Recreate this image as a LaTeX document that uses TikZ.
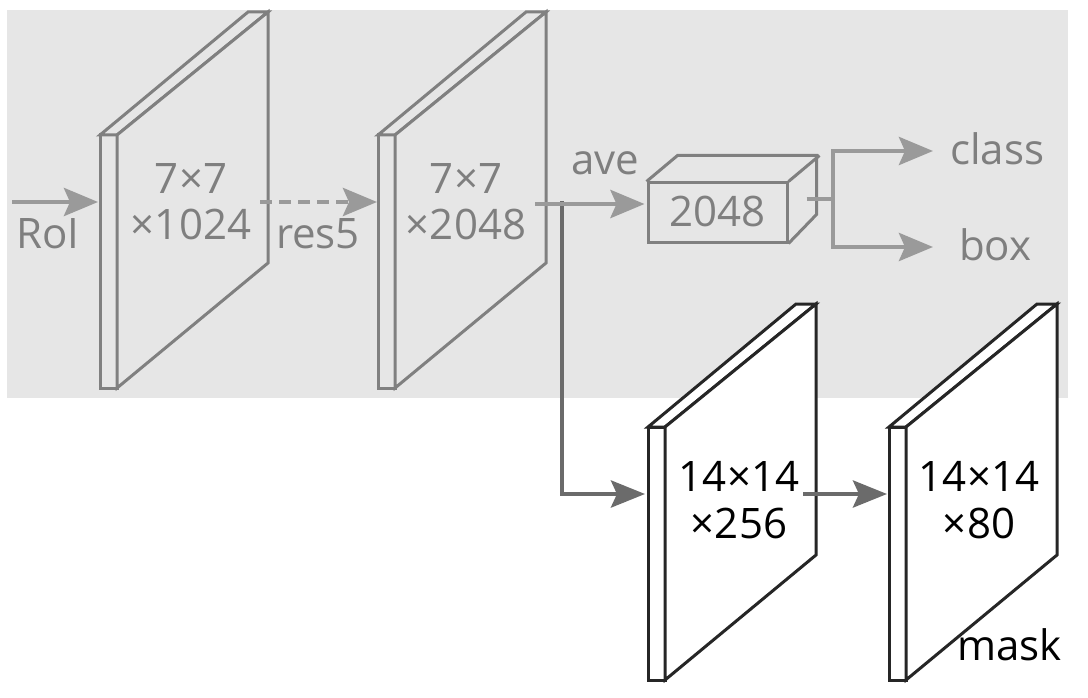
\documentclass[tikz,border=0pt]{standalone}
\usepackage{fontspec}
\setmainfont{Open Sans}
\usetikzlibrary{arrows.meta}
\definecolor{bggray}{HTML}{E6E6E6}
\definecolor{plategray}{HTML}{808080}
\definecolor{textgray}{HTML}{7F7F7F}
\definecolor{arrowlight}{HTML}{9A9A9A}
\definecolor{arrowdark}{HTML}{6B6B6B}
\definecolor{plateblack}{HTML}{262626}
\tikzset{
  x=1pt, y=-1pt,
  big/.style={font=\fontsize{42}{47}\selectfont, inner sep=0pt},
  graytext/.style={big, text=textgray},
  blacktext/.style={big, text=black},
  lightarrow/.style={draw=arrowlight, line width=4.5pt,
    -{Stealth[length=34pt, width=28pt, inset=6pt]}},
  lightline/.style={draw=arrowlight, line width=4.5pt},
  darkarrow/.style={draw=arrowdark, line width=4.5pt,
    -{Stealth[length=34pt, width=27pt, inset=6pt]}},
  pics/plate/.style={code={
    \path[platelook] (0,0) rectangle (17,253);
    \path[platelook] (0,0) -- (148,-123) -- (168,-123) -- (17,0) -- cycle;
    \path[platelook] (17,0) -- (168,-123) -- (168,128) -- (17,253) -- cycle;
    \coordinate (-in) at (0,67);
    \coordinate (-out) at (157,67);
  }},
}
\begin{document}
\begin{tikzpicture}
  % background
  \path[fill=white] (0,0) rectangle (1088,698);
  \useasboundingbox (0,0) rectangle (1088,698);
  \path[fill=bggray] (7,10) rectangle (1068,398);

  % plates
  \pic[platelook/.style={draw=plategray, fill=bggray, line width=3pt, line join=miter}] (p1) at (100,135) {plate};
  \pic[platelook/.style={draw=plategray, fill=bggray, line width=3pt, line join=miter}] (p2) at (378,135) {plate};
  \pic[platelook/.style={draw=plateblack, fill=white, line width=3pt, line join=miter}] (p3) at (648,427) {plate};
  \pic[platelook/.style={draw=plateblack, fill=white, line width=3pt, line join=miter}] (p4) at (889,427) {plate};

  % plate texts (base anchor = baseline of last line)
  \node[graytext, anchor=base, align=center] (t1) at (191,240) {7×7\\×1024};
  \node[graytext, anchor=base, align=center] (t2) at (466,240) {7×7\\×2048};
  \node[blacktext, anchor=base, align=center] (t3) at (739,538) {14×14\\×256};
  \node[blacktext, anchor=base, align=center] (t4) at (979,538) {14×14\\×80};

  % 2048 box
  \node[graytext, draw=plategray, line width=3pt, minimum width=139pt, minimum height=59pt, text depth=3pt] (fv) at (717.5,212.5) {2048};
  \draw[draw=plategray, line width=3pt, line join=miter]
    (fv.north west) -- ++(31,-26) -- ++(139,0) -- ++(0,59) -- (fv.south east)
    (fv.north east) -- ++(31,-26);

  % free-end coordinates
  \coordinate (roi) at (12,202);
  \coordinate (fork) at (833,199);
  \coordinate (clsend) at (933,151);
  \coordinate (boxend) at (933,247);

  % connectors
  \draw[lightarrow, shorten >=2pt] (roi) -- (p1-in);
  \draw[lightarrow, dash pattern=on 12pt off 7pt, shorten >=1pt] ([xshift=3pt]p1-out) -- (p2-in);
  \draw[darkarrow, shorten >=3pt] ([xshift=27pt, yshift=1pt]p2-out) |- (p3-in);
  \draw[lightarrow, shorten >=2pt] ([yshift=-2pt]p2-out) -- ([yshift=-2pt]p2-out -| fv.west);
  \draw[lightline] ([shift={(18,-13.5)}]fv.east) -- (fork);
  \draw[lightarrow] (fork) |- (clsend);
  \draw[lightarrow] (fork) |- (boxend);
  \draw[darkarrow, shorten >=2pt] ([xshift=-2pt]p3-out) -- (p4-in);

  % labels
  \node[graytext, anchor=base] (lroi) at (48,248) {RoI};
  \node[graytext, anchor=base] (lres) at (318,248) {res5};
  \node[graytext, anchor=base] (lave) at (605,175) {ave};
  \node[graytext, anchor=base west] (lcls) at (950,165) {class};
  \node[graytext, anchor=base west] (lbox) at (959,260) {box};
  \node[blacktext, anchor=base east] (lmask) at (1062,660) {mask};
\end{tikzpicture}
\end{document}
